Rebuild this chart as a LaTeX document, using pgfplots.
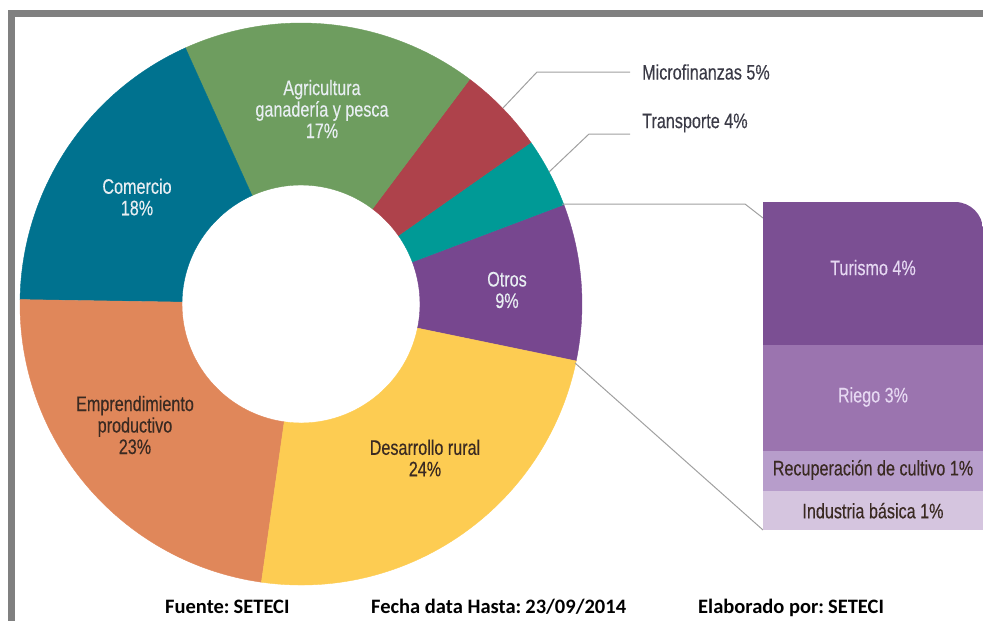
\documentclass[border=0pt]{standalone}
\usepackage{pgfplots}
\pgfplotsset{compat=1.18}
\usepackage{pgfplotstable}
\usetikzlibrary{calc}
\usepackage{fontspec}
\setmainfont{Liberation Sans}[FakeStretch=0.77, FakeBold=0.3]
\newfontfamily\footfont{Carlito}

\definecolor{cCom}{HTML}{00728F}
\definecolor{cAgri}{HTML}{6E9D5F}
\definecolor{cMicro}{HTML}{AE424B}
\definecolor{cTrans}{HTML}{009A96}
\definecolor{cOtros}{HTML}{77478F}
\definecolor{cDes}{HTML}{FDCC52}
\definecolor{cEmp}{HTML}{E0875A}
\definecolor{cTur}{HTML}{7B4F93}
\definecolor{cRie}{HTML}{9B74AF}
\definecolor{cRec}{HTML}{B79DCB}
\definecolor{cInd}{HTML}{D5C5DF}
\definecolor{lightTxt}{HTML}{E8EEF2}
\definecolor{lavTxt}{HTML}{E6D8F2}
\definecolor{darkTxt}{HTML}{3A2A22}
\definecolor{greyTxt}{HTML}{3A3A46}
\definecolor{frameGrey}{HTML}{808080}
\definecolor{leader}{HTML}{A0A0A0}

% donut: share of each sector (%), counterclockwise from the Otros/Desarrollo boundary
\pgfplotstableread{
name value col
Otros 9 cOtros
Transporte 4 cTrans
Microfinanzas 5 cMicro
Agricultura 17 cAgri
Comercio 18 cCom
Emprendimiento 23 cEmp
Desarrollo 24 cDes
}\donut

% breakdown of "Otros" (%), bottom to top
\pgfplotstableread{
x val
0 1.07
0 1.10
0 2.91
0 3.92
}\otros

\begin{document}
\begin{tikzpicture}
\begin{axis}[name=main, at={(0,0)}, anchor=south west,
  scale only axis, width=983pt, height=621pt,
  xmin=0, xmax=983, ymin=0, ymax=621, y dir=reverse,
  hide axis, clip=false]
  \coordinate (c00) at (axis cs:0,621);
  \coordinate (c11) at (axis cs:983,0);
  \coordinate (barSW) at (axis cs:763,530);
  \coordinate (barNW) at (axis cs:763,202);
  \coordinate (barNE) at (axis cs:983,202);
  \coordinate (barSE) at (axis cs:983,530);
  % frame
  \fill[frameGrey] (axis cs:8,10) rectangle (axis cs:983,17);
  \fill[frameGrey] (axis cs:8,10) rectangle (axis cs:15,621);
  % donut
  \pgfplotstablegetrowsof{\donut}
  \pgfmathtruncatemacro{\lastrow}{\pgfplotsretval-1}
  \xdef\angA{-11.7}
  \pgfplotsforeachungrouped \i in {0,...,\lastrow}{%
    \pgfplotstablegetelem{\i}{value}\of\donut
    \pgfmathsetmacro{\angB}{\angA+3.6*\pgfplotsretval}%
    \pgfplotstablegetelem{\i}{col}\of\donut
    \edef\temp{\noexpand\filldraw[fill=\pgfplotsretval, draw=\pgfplotsretval, line width=0.4pt] (axis cs:301,304) ++(\angA:281pt) arc[start angle=\angA, end angle=\angB, radius=281pt] -- ++(\angB:-162pt) arc[start angle=\angB, end angle=\angA, radius=119pt] -- cycle;}%
    \temp
    \xdef\angA{\angB}%
  }
  % labels in the donut
  \begin{scope}[every node/.style={align=center, font=\fontsize{21}{21.5}\selectfont, inner sep=0pt}]
  \node[text=lightTxt] at (axis cs:322,109) {Agricultura\\ganadería y pesca\\17\%};
  \node[text=lightTxt] at (axis cs:137,197) {Comercio\\18\%};
  \node[text=darkTxt] at (axis cs:135,425) {Emprendimiento\\productivo\\23\%};
  \node[text=darkTxt] at (axis cs:425,458) {Desarrollo rural\\24\%};
  \node[text=lightTxt] at (axis cs:507,290) {Otros\\9\%};
  \node[text=greyTxt, anchor=west] at (axis cs:642,72) {Microfinanzas 5\%};
  \node[text=greyTxt, anchor=west] at (axis cs:642,123) {Transporte 4\%};
  \end{scope}
  % leader lines
  \draw[leader, line width=1pt] (axis cs:503,108) -- (axis cs:537,72) -- (axis cs:630,72);
  \draw[leader, line width=1pt] (axis cs:549,172) -- (axis cs:589,134) -- (axis cs:630,134);
  \draw[leader, line width=1pt] (axis cs:562,204) -- (axis cs:745,204) -- (axis cs:763,218);
  \draw[leader, line width=1pt] (axis cs:575,363) -- (axis cs:763,530);
  % footer
  \begin{scope}[every node/.style={font=\footfont\bfseries\fontsize{20.5}{22}\selectfont, anchor=base west, inner sep=0pt, text=black}]
  \node at (axis cs:165,613) {Fuente:\hspace{0.2em}SETECI};
  \node at (axis cs:371,613) {Fecha data Hasta:\hspace{0.2em}23/09/2014};
  \node at (axis cs:698,613) {Elaborado por:\hspace{0.2em}SETECI};
  \end{scope}
\end{axis}
\begin{scope}
\clip (barSW) -- (barNW) -- ($(barNE)+(-28pt,0)$) arc[start angle=90, end angle=0, radius=28pt] -- (barSE) -- cycle;
\begin{axis}[at={(barSW)}, anchor=south west,
  scale only axis, width=220pt, height=328pt,
  xmin=-0.5, xmax=0.5, ymin=0, ymax=9, hide axis,
  ybar stacked, bar width=220pt, clip=false]
  \addplot[fill=cInd, draw=none] table[x=x, y=val, skip coords between index={1}{4}] {\otros};
  \addplot[fill=cRec, draw=none] table[x=x, y=val, skip coords between index={0}{1}, skip coords between index={2}{4}] {\otros};
  \addplot[fill=cRie, draw=none] table[x=x, y=val, skip coords between index={0}{2}, skip coords between index={3}{4}] {\otros};
  \addplot[fill=cTur, draw=none] table[x=x, y=val, skip coords between index={0}{3}] {\otros};
\end{axis}
\end{scope}
\begin{axis}[at={(barSW)}, anchor=south west,
  scale only axis, width=220pt, height=328pt,
  xmin=-0.5, xmax=0.5, ymin=0, ymax=9, hide axis, clip=false]
  \begin{scope}[every node/.style={align=center, font=\fontsize{21}{21.5}\selectfont, inner sep=0pt}]
  \node[text=lavTxt] at (axis cs:0,7.2) {Turismo 4\%};
  \node[text=lavTxt] at (axis cs:0,3.65) {Riego 3\%};
  \node[text=darkTxt] at (axis cs:0,1.65) {Recuperación de cultivo 1\%};
  \node[text=darkTxt] at (axis cs:0,0.53) {Industria básica 1\%};
  \end{scope}
\end{axis}
\pgfresetboundingbox
\path (c00) rectangle (c11);
\end{tikzpicture}
\end{document}
